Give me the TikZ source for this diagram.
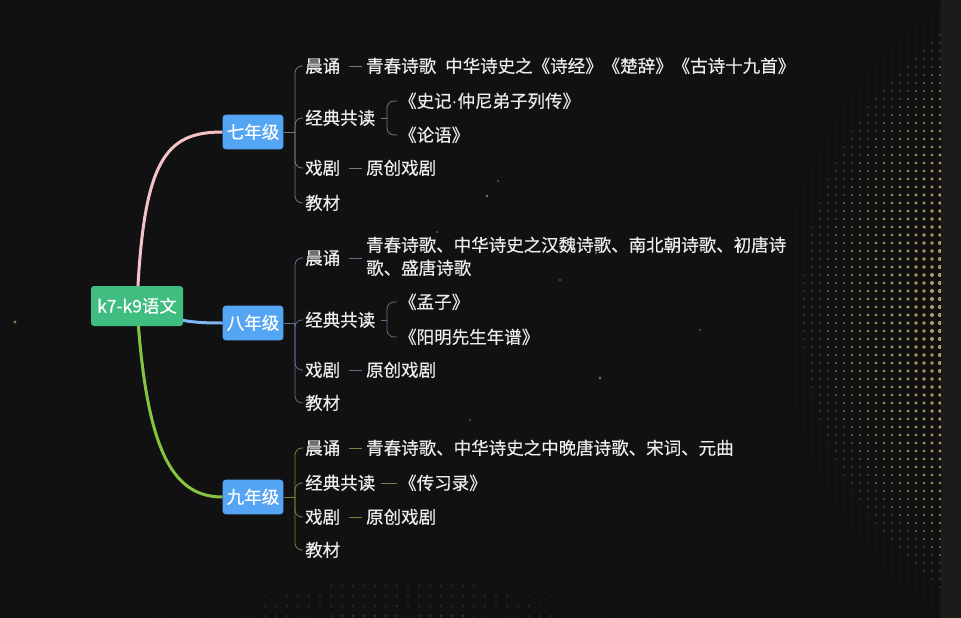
\documentclass[tikz,border=0pt]{standalone}
\usepackage{fontspec}
\setmainfont{Noto Sans CJK SC}[FakeBold=0.35]
\newfontfamily\latinf{Liberation Sans}
\definecolor{bgc}{HTML}{111111}
\definecolor{stripc}{HTML}{1C1B19}
\definecolor{rootc}{HTML}{40BD80}
\definecolor{gradec}{HTML}{55A5F5}
\definecolor{pinkc}{HTML}{F5C2C7}
\definecolor{bluec}{HTML}{7DB8F5}
\definecolor{greenc}{HTML}{86C440}
\definecolor{brseven}{HTML}{7A7A7A}
\definecolor{breight}{HTML}{5D7290}
\definecolor{brnine}{HTML}{7A8240}
\definecolor{txtc}{HTML}{EDEDED}
\definecolor{dotc}{HTML}{D4C07A}
\pgfdeclarelayer{bg}
\pgfdeclarelayer{lines}
\pgfsetlayers{bg,lines,main}
\tikzset{
  txt/.style={text=txtc, font=\fontsize{17.5}{23}\selectfont, inner sep=0pt},
  item/.style={txt, anchor=west, text height=15pt, text depth=2pt},
  gradebox/.style={rounded corners=3pt, text=white, font=\fontsize{17.5}{23}\selectfont,
    minimum height=34.6pt, minimum width=60.6pt, inner sep=0pt, fill=gradec,
    text height=15pt, text depth=2pt},
  rootbox/.style={gradebox, fill=rootc, minimum width=92pt, minimum height=40pt},
  mainline/.style={line width=3pt},
  brline/.style={line width=0.8pt},
  bracket/.style={brline, rounded corners=7pt, shorten >=2pt},
  leafline/.style={brline, shorten <=9pt, shorten >=4pt},
  star/.style={fill=dotc, opacity=0.6},
}
\begin{document}
\begin{tikzpicture}[x=1pt,y=-1pt]
\begin{pgfonlayer}{bg}
  \fill[bgc] (0,0) rectangle (961,618);
  \foreach \x in {796,804,...,940}{
    \foreach \y in {3,11,...,615}{
      \pgfmathsetmacro{\rr}{2.0*(390-veclen(\x-1150,\y-310))/170}
      \ifdim\rr pt>0.25pt \fill[dotc, opacity=0.8] (\x,\y) circle[radius=\rr];\fi
    }}
  \foreach \x in {100,111,...,700}{
    \foreach \y in {566,576,...,616}{
      \pgfmathsetmacro{\rr}{1.1*(420-veclen(\x-400,\y-900))/140}
      \ifdim\rr pt>0.3pt \fill[gray, opacity=0.35] (\x,\y) circle[radius=\rr];\fi
    }}
  \foreach \p/\s in {(15,322)/1.6,(487,196)/1.3,(498,181)/0.9,(596,253)/1.1,(600,378)/1.3,(437,232)/0.8,(620,440)/1.0,(560,280)/0.8,(700,330)/0.8,(470,420)/0.9}
    \fill[star] \p circle[radius=\s];
  \fill[stripc] (941,0) rectangle (961,618);
\end{pgfonlayer}
\useasboundingbox (0,0) rectangle (961,618);

% root and grades
\node[rootbox] (root) at (137,306) {k7-k9语文};
\node[gradebox] (g7) at (253,132) {七年级};
\node[gradebox] (g8) at (253,323) {八年级};
\node[gradebox] (g9) at (253,497) {九年级};

\begin{pgfonlayer}{lines}
  \draw[pinkc, mainline] (root.center) .. controls (143,160) and (165,132) .. (g7.west);
  \draw[bluec, mainline] (root.center) .. controls (175,322) and (195,323) .. (g8.west);
  \draw[greenc, mainline] (root.center) .. controls (146,450) and (172,497) .. (g9.west);
\end{pgfonlayer}

% grade 7
\coordinate (j7) at (295,132);
\coordinate (k72) at (387,118);
\node[item] (c71) at (305,66) {晨诵};
\node[item] (c72) at (305,118) {经典共读};
\node[item] (c73) at (305,168) {戏剧};
\node[item] (c74) at (305,203) {教材};
\node[item] (l71) at (366,66) {青春诗歌\hspace{9pt}中华诗史之《诗经》《楚辞》《古诗十九首》};
\node[item] (l72a) at (399,101) {《史记{\latinf ·}仲尼弟子列传》};
\node[item] (l72b) at (399,135) {《论语》};
\node[item] (l73) at (366,168) {原创戏剧};
\draw[brseven, brline] (g7.east) -- (j7);
\foreach \c in {c71,c72,c73,c74} \draw[brseven, bracket] (j7) |- (\c.west);
\draw[brseven, leafline] (c71.east) -- (c71.east -| l71.west);
\draw[brseven, brline, shorten <=6pt] (c72.east) -- (k72);
\foreach \c in {l72a,l72b} \draw[brseven, bracket] (k72) |- (\c.west);
\draw[brseven, leafline] (c73.east) -- (c73.east -| l73.west);

% grade 8
\coordinate (j8) at (295,323);
\coordinate (k82) at (387,320);
\node[item] (c81) at (305,258) {晨诵};
\node[item] (c82) at (305,320) {经典共读};
\node[item] (c83) at (305,370) {戏剧};
\node[item] (c84) at (305,403) {教材};
\node[txt, anchor=base west] (l81) at (366,251.5) {\begin{tabular}[t]{@{}l@{}}青春诗歌、中华诗史之汉魏诗歌、南北朝诗歌、初唐诗\\歌、盛唐诗歌\end{tabular}};
\node[item] (l82a) at (399,302) {《孟子》};
\node[item] (l82b) at (399,337) {《阳明先生年谱》};
\node[item] (l83) at (366,370) {原创戏剧};
\draw[breight, brline] (g8.east) -- (j8);
\foreach \c in {c81,c82,c83,c84} \draw[breight, bracket] (j8) |- (\c.west);
\draw[breight, leafline] (c81.east) -- (c81.east -| l81.west);
\draw[breight, brline, shorten <=6pt] (c82.east) -- (k82);
\foreach \c in {l82a,l82b} \draw[breight, bracket] (k82) |- (\c.west);
\draw[breight, leafline] (c83.east) -- (c83.east -| l83.west);

% grade 9
\coordinate (j9) at (295,497);
\node[item] (c91) at (305,448) {晨诵};
\node[item] (c92) at (305,483) {经典共读};
\node[item] (c93) at (305,517) {戏剧};
\node[item] (c94) at (305,550) {教材};
\node[item] (l91) at (366,448) {青春诗歌、中华诗史之中晚唐诗歌、宋词、元曲};
\node[item] (l92) at (399,483) {《传习录》};
\node[item] (l93) at (366,517) {原创戏剧};
\draw[brnine, brline] (g9.east) -- (j9);
\foreach \c in {c91,c92,c93,c94} \draw[brnine, bracket] (j9) |- (\c.west);
\draw[brnine, leafline] (c91.east) -- (c91.east -| l91.west);
\draw[brnine, brline, shorten <=6pt, shorten >=2pt] (c92.east) -- (c92.east -| l92.west);
\draw[brnine, leafline] (c93.east) -- (c93.east -| l93.west);
\end{tikzpicture}
\end{document}
